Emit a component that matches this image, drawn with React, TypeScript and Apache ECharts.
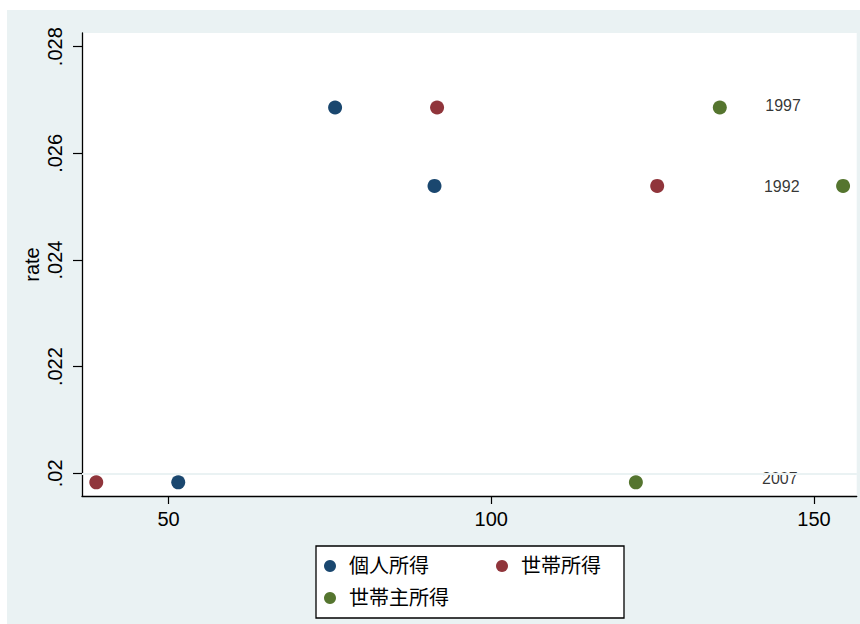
import React, { useEffect, useRef } from "react";
import * as echarts from "echarts";

const seriesNames = ["個人所得", "世帯所得", "世帯主所得"];
const seriesColors = ["#1a476f", "#90353b", "#55752f"];
const years = ["1997", "1992", "2007"];
const rates = [0.02686, 0.02539, 0.01983];
const kojinIncome = [75.8, 91.2, 51.5];
const setaiIncome = [91.6, 125.7, 38.8];
const setainushiIncome = [135.4, 154.5, 122.4];
const yearLabelX = [145.2, 145.0, 144.7];
const yearLabelRate = [0.02689, 0.02537, 0.01991];
const xTicks = [50, 100, 150];
const yTicks = [0.02, 0.022, 0.024, 0.026, 0.028];
const xRange = [36.59, 156.61];
const yRange = [0.019574, 0.028257];

const FONT = "Liberation Sans, Noto Sans CJK JP, sans-serif";

export default function App() {
  const ref = useRef<HTMLDivElement>(null);
  useEffect(() => {
    if (!ref.current) return;
    const chart = echarts.init(ref.current, undefined, { renderer: "svg" });
    const xs = [kojinIncome, setaiIncome, setainushiIncome];
    const option: any = {
      animation: false,
      backgroundColor: "#ffffff",
      textStyle: { fontFamily: FONT, color: "#000" },
      graphic: [
        {
          type: "rect",
          shape: { x: 7, y: 10, width: 853, height: 614 },
          style: { fill: "#eaf2f3" },
          z: -100,
          silent: true,
        },
      ],
      grid: {
        left: 82,
        top: 33,
        right: 3.3,
        bottom: 128,
        show: true,
        backgroundColor: "#ffffff",
        borderWidth: 0,
        outerBoundsMode: "none",
      },
      xAxis: {
        type: "value",
        min: xRange[0],
        max: xRange[1],
        axisLine: { show: true, onZero: false, lineStyle: { color: "#000", width: 1.3 } },
        axisTick: { show: true, length: 8, customValues: xTicks, lineStyle: { color: "#000", width: 1.2 } },
        axisLabel: { customValues: xTicks, fontSize: 20, color: "#000", margin: 13, fontFamily: FONT },
        splitLine: { show: false },
      },
      yAxis: {
        type: "value",
        min: yRange[0],
        max: yRange[1],
        name: "rate",
        nameLocation: "middle",
        nameRotate: 90,
        nameGap: 40,
        nameMoveOverlap: false,
        nameTextStyle: { fontSize: 20, color: "#000", fontFamily: FONT },
        axisLine: { show: true, onZero: false, lineStyle: { color: "#000", width: 1.3 } },
        axisTick: { show: true, length: 9, customValues: yTicks, lineStyle: { color: "#000", width: 1.2 } },
        axisLabel: {
          customValues: yTicks,
          rotate: 90,
          fontSize: 20,
          color: "#000",
          margin: 17,
          fontFamily: FONT,
          formatter: (v: number) => v.toFixed(3).replace(/^0/, "").replace(/0+$/, ""),
        },
        splitLine: { show: false },
      },
      legend: {
        data: seriesNames.map((n, i) => ({
          name: n,
          textStyle: { width: [137, 85, 100][i] },
        })),
        left: 316,
        top: 546,
        orient: "horizontal",
        width: 320,
        icon: "circle",
        itemWidth: 12,
        itemHeight: 12,
        itemGap: 10,
        padding: [9, 18, 9, 8],
        borderColor: "#000",
        borderWidth: 1.3,
        backgroundColor: "#ffffff",
        selectedMode: false,
        textStyle: { fontSize: 20, color: "#000", lineHeight: 22, padding: [0, 0, 0, 8], fontFamily: FONT },
      },
      series: [
        {
          name: "grid",
          type: "scatter",
          z: 1,
          silent: true,
          data: [],
          markLine: {
            silent: true,
            symbol: "none",
            label: { show: false },
            lineStyle: { color: "#eaf2f3", width: 1.6, type: "solid" },
            emphasis: { disabled: true },
            data: yTicks.map((v) => ({ yAxis: v })),
          },
        },
        ...seriesNames.map((name, i) => ({
          name,
          type: "scatter",
          symbol: "circle",
          symbolSize: 14,
          z: 3,
          itemStyle: { color: seriesColors[i], opacity: 1 },
          emphasis: { disabled: true },
          data: xs[i].map((x, j) => [x, rates[j]]),
        })),
        {
          name: "years",
          type: "scatter",
          symbolSize: 0,
          z: 4,
          silent: true,
          itemStyle: { color: "#000" },
          emphasis: { disabled: true },
          label: {
            show: true,
            position: "inside",
            formatter: "{b}",
            fontSize: 16,
            fontFamily: FONT,
            color: "#000",
            textBorderWidth: 0,
          },
          data: years.map((y, j) => ({ name: y, value: [yearLabelX[j], yearLabelRate[j]] })),
        },
      ],
    };
    chart.setOption(option);
    return () => chart.dispose();
  }, []);
  return (
    <div
      ref={ref}
      style={{ position: "fixed", left: 0, top: 0, width: 860, height: 624 }}
    />
  );
}
